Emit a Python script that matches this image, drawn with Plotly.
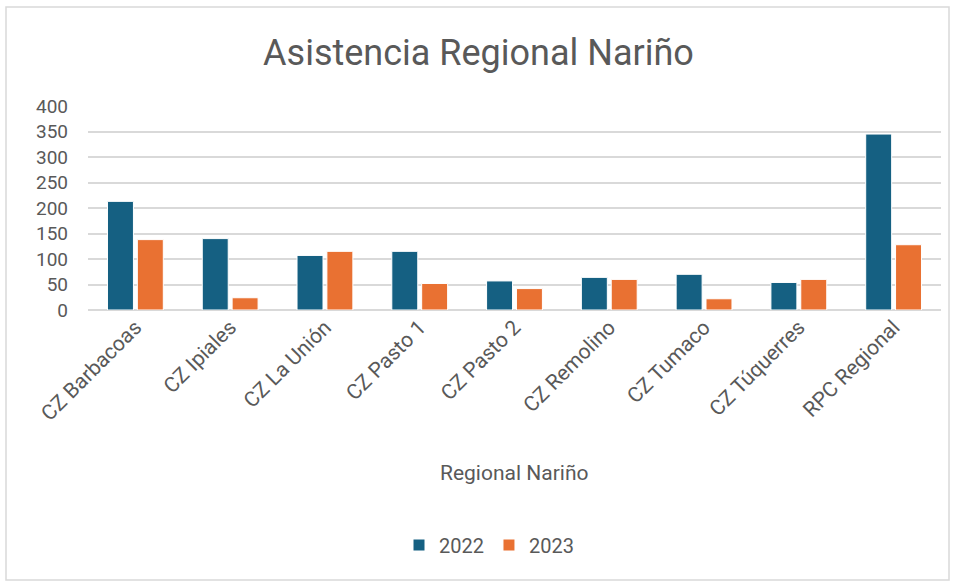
import plotly.graph_objects as go

categories = ["CZ Barbacoas", "CZ Ipiales", "CZ La Unión", "CZ Pasto 1", "CZ Pasto 2",
              "CZ Remolino", "CZ Tumaco", "CZ Túquerres", "RPC Regional"]
values_2022 = [213, 140, 107, 115, 57, 64, 70, 54, 345]
values_2023 = [138, 24, 115, 52, 42, 60, 22, 60, 128]
y_ticks = [0, 50, 100, 150, 200, 250, 300, 350, 400]

FONT = "Roboto"
GREY = "#595959"

fig = go.Figure()
fig.add_trace(go.Bar(name="2022", x=categories, y=values_2022,
                     marker=dict(color="#156082", line=dict(color="white", width=1))))
fig.add_trace(go.Bar(name="2023", x=categories, y=values_2023,
                     marker=dict(color="#E97132", line=dict(color="white", width=1))))

L, R, T, B = 88, 16, 106, 272
W, H = 957, 582
pw, ph = W - L - R, H - T - B

def px(x):
    return (x - L) / pw

def py(y):
    return (H - B - y) / ph

fig.update_layout(
    width=W, height=H,
    margin=dict(l=L, r=R, t=T, b=B),
    paper_bgcolor="white", plot_bgcolor="white",
    font=dict(family=FONT, color=GREY, size=19),
    title=dict(text="Asistencia Regional Nariño", x=0.5, xanchor="center",
               y=1 - 52 / H, yanchor="middle", font=dict(size=36, color=GREY)),
    barmode="group", bargap=0.37, bargroupgap=0.13,
    showlegend=True,
    legend=dict(orientation="h", x=px(489), xanchor="center", y=py(545), yanchor="middle",
                font=dict(size=20, color=GREY), itemwidth=30, traceorder="normal"),
    xaxis=dict(tickangle=-45, showgrid=False, showline=False, ticks="",
               tickfont=dict(size=21, color=GREY)),
    yaxis=dict(range=[0, 400], tickvals=y_ticks, showgrid=True, gridcolor="#d9d9d9",
               gridwidth=1.5, zeroline=True, zerolinecolor="#d9d9d9", zerolinewidth=1.5,
               showline=False, ticks="", tickfont=dict(size=19, color=GREY),
               ticklabelstandoff=19),
    annotations=[dict(text="Regional Nariño", xref="paper", yref="paper",
                      x=0.5, y=py(473), xanchor="center", yanchor="middle",
                      showarrow=False, font=dict(size=21, color=GREY))],
    shapes=[dict(type="rect", xref="paper", yref="paper",
                 x0=px(6), x1=px(949), y0=py(580), y1=py(7),
                 line=dict(color="#d9d9d9", width=1.5), layer="below")],
)

fig.write_html("out.html", config={"displayModeBar": False},
               post_script="document.body.style.margin='0';")
